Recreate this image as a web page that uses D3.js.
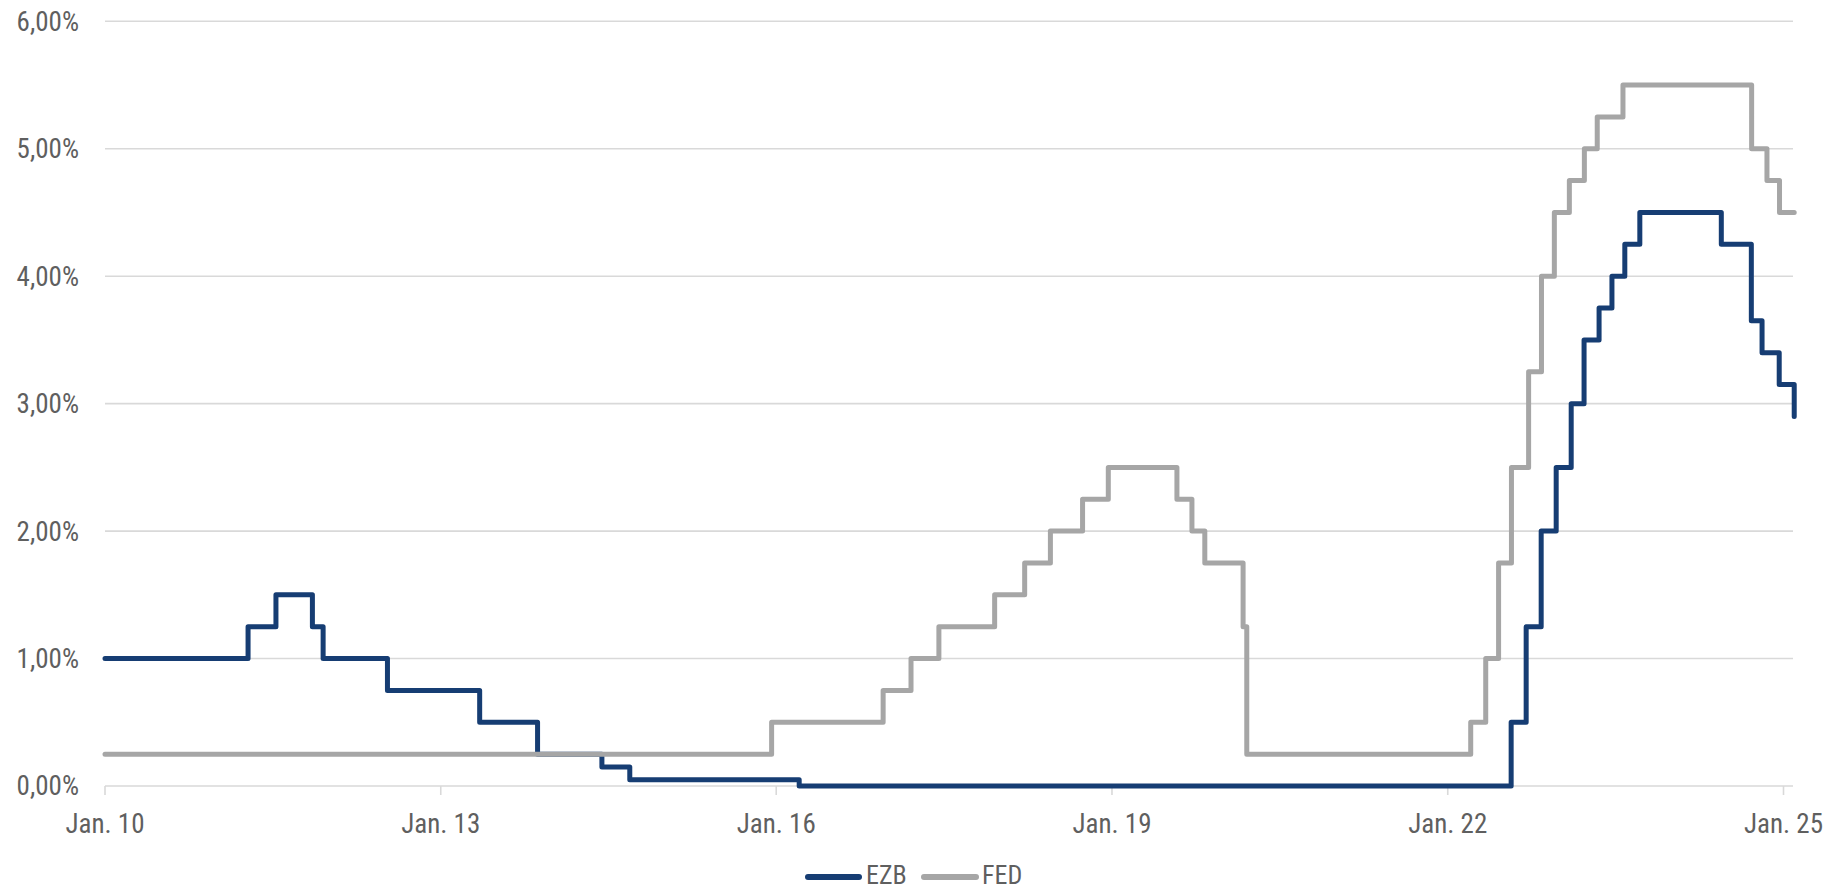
<!DOCTYPE html>
<html><head><meta charset="utf-8">
<script src="https://cdn.jsdelivr.net/npm/d3@7/dist/d3.min.js"></script>
<style>
html,body{margin:0;padding:0;background:#fff;}
svg{display:block;}
text{font-family:"Liberation Sans Narrow","Arial Narrow","Roboto Condensed","DejaVu Sans Condensed",sans-serif;fill:#5f5f5f;}
</style></head>
<body><svg id="c" width="1840" height="891"></svg>
<script>
// ---- data ----
const seriesNames = ["EZB", "FED"];
const ezbDates = ["2010-01-01","2011-04-13","2011-07-13","2011-11-09","2011-12-14","2012-07-11","2013-05-08","2013-11-13","2014-06-11","2014-09-10","2016-03-16","2022-07-27","2022-09-14","2022-11-02","2022-12-21","2023-02-08","2023-03-22","2023-05-10","2023-06-21","2023-08-02","2023-09-20","2024-06-12","2024-09-18","2024-10-23","2024-12-18","2025-02-05"];
const ezbRates = [1.00,1.25,1.50,1.25,1.00,0.75,0.50,0.25,0.15,0.05,0.00,0.50,1.25,2.00,2.50,3.00,3.50,3.75,4.00,4.25,4.50,4.25,3.65,3.40,3.15,2.90];
const fedDates = ["2010-01-01","2015-12-17","2016-12-15","2017-03-16","2017-06-15","2017-12-14","2018-03-22","2018-06-14","2018-09-27","2018-12-20","2019-08-01","2019-09-19","2019-10-31","2020-03-04","2020-03-16","2022-03-17","2022-05-05","2022-06-16","2022-07-28","2022-09-22","2022-11-03","2022-12-15","2023-02-02","2023-03-23","2023-05-04","2023-07-27","2024-09-19","2024-11-08","2024-12-19","2025-02-05"];
const fedRates = [0.25,0.50,0.75,1.00,1.25,1.50,1.75,2.00,2.25,2.50,2.25,2.00,1.75,1.25,0.25,0.50,1.00,1.75,2.50,3.25,4.00,4.50,4.75,5.00,5.25,5.50,5.00,4.75,4.50,4.50];
const xTickDates = ["2010-01-01","2013-01-01","2016-01-01","2019-01-01","2022-01-01","2025-01-01"];
const xTickLabels = ["Jan. 10","Jan. 13","Jan. 16","Jan. 19","Jan. 22","Jan. 25"];
const yTickValues = [0,1,2,3,4,5,6];
const yTickLabels = ["0,00%","1,00%","2,00%","3,00%","4,00%","5,00%","6,00%"];
const colors = {EZB:"#163d73", FED:"#a6a6a6"};

// ---- chart ----
const svg = d3.select("#c");
const parse = d3.utcParse("%Y-%m-%d");
const x = d3.scaleUtc().domain([parse("2010-01-01"), parse("2025-01-01")]).range([105, 1783.5]);
const y = d3.scaleLinear().domain([0, 6]).range([786, 21.3]);
const xRight = 1793;

// gridlines
svg.append("g").selectAll("line").data(yTickValues).join("line")
  .attr("x1", 105).attr("x2", xRight)
  .attr("y1", d => y(d)).attr("y2", d => y(d))
  .attr("stroke", "#d9d9d9").attr("stroke-width", 1.6);

// y labels
svg.append("g").selectAll("text").data(yTickValues).join("text")
  .attr("x", 79).attr("y", d => y(d)).attr("dy", "0.35em")
  .attr("text-anchor", "end").attr("font-size", 27)
  .text((d, i) => yTickLabels[i]);

// x ticks
const xt = xTickDates.map(parse);
svg.append("g").selectAll("line").data(xt).join("line")
  .attr("x1", d => x(d)).attr("x2", d => x(d))
  .attr("y1", 786).attr("y2", 795)
  .attr("stroke", "#d9d9d9").attr("stroke-width", 1.6);
svg.append("g").selectAll("text").data(xt).join("text")
  .attr("x", d => x(d)).attr("y", 833)
  .attr("text-anchor", "middle").attr("font-size", 27)
  .text((d, i) => xTickLabels[i]);

// lines (FED drawn above EZB, as in the reference)
const line = d3.line().curve(d3.curveStepAfter).x(d => x(d[0])).y(d => y(d[1]));
const fedData = fedDates.map((d, i) => [parse(d), fedRates[i]]);
const ezbData = ezbDates.map((d, i) => [parse(d), ezbRates[i]]);
svg.append("path").datum(ezbData).attr("d", line)
  .attr("fill", "none").attr("stroke", colors.EZB).attr("stroke-width", 5)
  .attr("stroke-linejoin", "round").attr("stroke-linecap", "round");
svg.append("path").datum(fedData).attr("d", line)
  .attr("fill", "none").attr("stroke", colors.FED).attr("stroke-width", 5)
  .attr("stroke-linejoin", "round").attr("stroke-linecap", "round");

// legend
const leg = [{name:"EZB", x1:808, x2:859, tx:866}, {name:"FED", x1:924, x2:976, tx:982}];
const lg = svg.append("g");
leg.forEach(l => {
  lg.append("line").attr("x1", l.x1).attr("x2", l.x2).attr("y1", 877).attr("y2", 877)
    .attr("stroke", colors[l.name]).attr("stroke-width", 6).attr("stroke-linecap", "round");
  lg.append("text").attr("x", l.tx).attr("y", 884).attr("font-size", 26).text(l.name);
});
</script></body></html>
